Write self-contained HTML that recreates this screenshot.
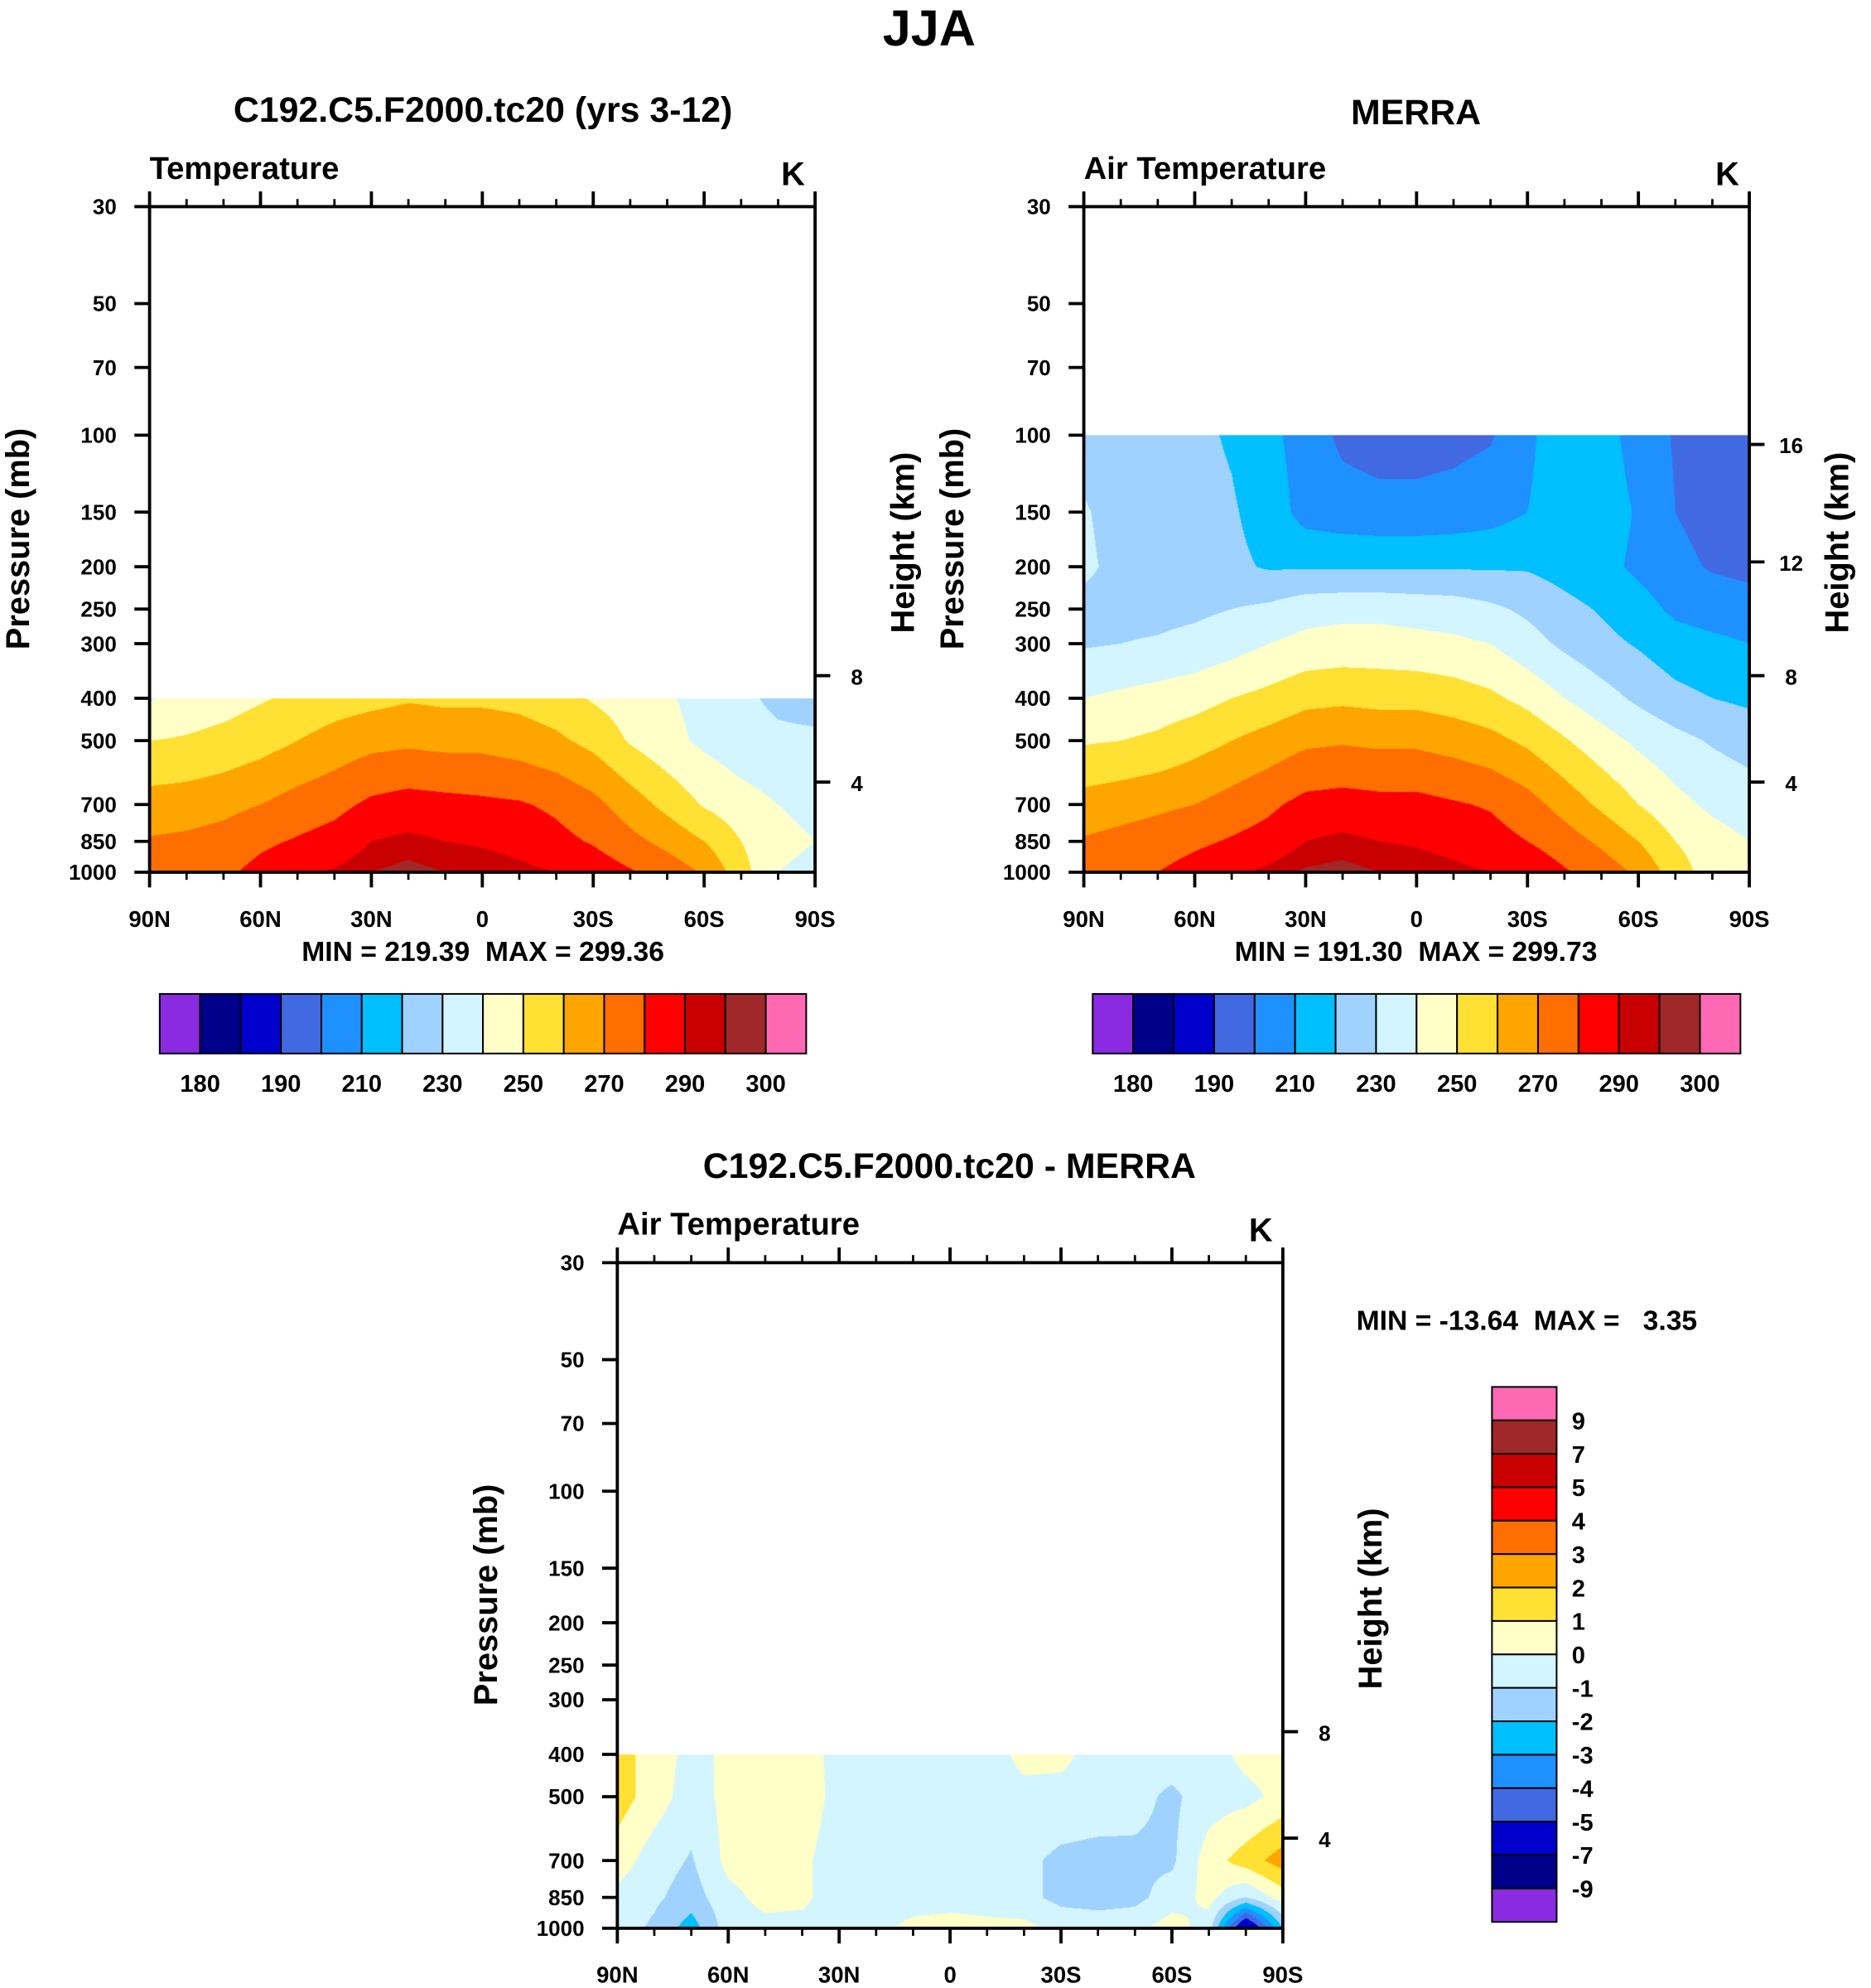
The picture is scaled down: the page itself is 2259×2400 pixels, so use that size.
<!DOCTYPE html>
<html><head><meta charset="utf-8">
<style>
html,body{margin:0;padding:0;background:#fff;}
#wrap{position:absolute;left:0;top:0;width:1476px;height:1568px;transform:scale(1.53049);transform-origin:0 0;overflow:hidden;background:#fff;}
#wrap svg{position:absolute;left:0;top:0;}
canvas{position:absolute;}
</style></head>
<body>
<div id="wrap">
<canvas id="c1" style="left:118px;top:163px;width:525px;height:525px" width="804" height="804"></canvas>
<canvas id="c2" style="left:855px;top:163px;width:525px;height:525px" width="804" height="804"></canvas>
<canvas id="c3" style="left:487px;top:996px;width:525px;height:525px" width="804" height="804"></canvas>
<svg id="svg" width="1476" height="1568" viewBox="0 0 1476 1568" font-family="'Liberation Sans', Arial, sans-serif" font-weight="bold"></svg>
</div>
<script>
// ---- data ----
const lats = [90,80,70,60,50,40,30,20,10,0,-10,-20,-30,-40,-50,-60,-70,-80,-90];
const levelsLow = [1000,850,700,500,400];
const levelsMerra = [1000,850,700,500,400,300,250,200,150,100];
const model1000 = [274,277,278,283,288,291,295,297,295,294,292,290,286,281,276,269,254,240,238];
const model850 = [271,272,274,278,281,284,290,292,290,289,287,283,279,273,267,260,250,242,240];
const model700 = [264,265,267,270,274,277,282,284,283,282,281,278,273,265,257,249,244,240,238];
const model500 = [250,251,253,256,260,264,267,268,267,267,265,262,257,249,243,238,234,232,232];
const model400 = [239,244,246,249,252,255,257,259,258,258,257,254,249,245,241,237,232,228,226];
const merra1000 = [275,277,280,284,288,292,296,297,295,294,292,290,287,281,276,268,255,245,240];
const merra850 = [271,273,275,278,281,284,290,292,290,289,287,284,280,275,268,260,250,244,240];
const merra700 = [264,266,268,270,274,278,283,284,283,283,281,279,274,266,258,250,243,238,235];
const merra500 = [249,250,252,256,260,264,268,269,268,268,266,263,258,251,244,238,233,229,226];
const merra400 = [240,242,244,246,250,253,257,258,257,257,255,252,247,240,234,228,223,220,218];
const merra300 = [229,230,231,233,236,240,243,244,244,243,242,240,234,228,223,219,214,212,210];
const merra250 = [227,227,227,228,230,232,236,237,237,236,235,232,228,223,219,214,208,206,205];
const merra200 = [232,227,226,225,222,219,219,219,219,219,219,219,219,216,213,208,203,199,197];
const merra150 = [231,226,224,223,221,216,206,204,203,203,204,206,210,215,215,209,200,196,195];
const merra100 = [226,223,222,222,219,213,205,198,196,196,197,199,208,216,214,206,199,194,193];
const diff1000 = [-0.5,-1.2,-2.5,-0.5,-0.3,-0.3,-0.5,-0.3,0.3,0.5,0.3,0.3,-0.3,-0.3,-0.3,0.5,-0.5,-7,-2];
const diff850 = [-0.3,-0.8,-1.5,-0.3,0.3,0.2,-0.5,-0.5,-0.5,-0.5,-0.5,-0.7,-1.3,-1.5,-1.3,-0.5,0.3,-1,0.5];
const diff700 = [0.5,-0.5,-1.1,0.3,0.5,0.2,-0.5,-0.5,-0.5,-0.5,-0.5,-0.8,-1.2,-1.3,-1.2,-1.2,0.5,1.5,2.5];
const diff500 = [1.5,0.5,-0.5,0.3,0.5,0.5,-0.3,-0.4,-0.4,-0.4,-0.5,-0.3,-0.4,-0.5,-0.7,-1.2,-0.5,-0.3,0.3];
const diff400 = [1.5,0.5,-0.3,0.2,0.5,0.4,-0.3,-0.5,-0.3,-0.3,-0.5,0.3,0.3,-0.5,-0.5,-0.5,-0.5,0.3,0.5];
const tempLevels = [180,185,190,200,210,220,230,240,250,260,270,280,290,295,300];
const tempTickLabels = ["180","190","210","230","250","270","290","300"];
const diffLevels = [-9,-7,-5,-4,-3,-2,-1,0,1,2,3,4,5,7,9];
const diffTickLabels = ["9","7","5","4","3","2","1","0","-1","-2","-3","-4","-5","-7","-9"];
const pressureTicks = [30,50,70,100,150,200,250,300,400,500,700,850,1000];
const latTicks = [90,60,30,0,-30,-60,-90];
const latTickLabels = ["90N","60N","30N","0","30S","60S","90S"];
const heightTicksKm = [4,8,12,16];
const heightTickPressure = [622,355,195,105];
const colors = ["#8a2be2","#00008b","#0000cd","#4169e1","#1e90ff","#00bfff","#a0d2ff","#d2f5ff","#ffffc8","#ffe033","#ffa500","#ff6e00","#ff0000","#c80000","#a02828","#ff69b4"];

const modelGrid = [model1000,model850,model700,model500,model400];
const merraGrid = [merra1000,merra850,merra700,merra500,merra400,merra300,merra250,merra200,merra150,merra100];
const diffGrid = [diff1000,diff850,diff700,diff500,diff400];

// ---- axis functions ----
const PW=525, PH=525;
const LN = Math.log(1000/30);
function yOfP(p){ return PH*Math.log(p/30)/LN; }
function pOfY(y){ return 30*Math.exp(y/PH*LN); }
function xOfLat(lat){ return (90-lat)/180*PW; }
function hexRgb(h){return [parseInt(h.substr(1,2),16),parseInt(h.substr(3,2),16),parseInt(h.substr(5,2),16)];}
const rgb = colors.map(hexRgb);
function colorIdx(v, lev){ let i=0; while(i<lev.length && v>=lev[i]) i++; return i; }

function drawField(id, grid, levels, lev){
  const c=document.getElementById(id), ctx=c.getContext('2d');
  const W=c.width, H=c.height, s=W/PW;
  const img=ctx.createImageData(W,H);
  const lp = levels.map(p=>Math.log(p));
  const pTop = levels[levels.length-1];
  for(let py=0;py<H;py++){
    const y=(py+0.5)/s;
    const p=pOfY(y);
    if(p<pTop-0.01 || p>1000.5) continue;
    const l=Math.log(p);
    let k=0; while(k<levels.length-2 && l<lp[k+1]) k++;
    let t=(lp[k]-l)/(lp[k]-lp[k+1]); t=Math.max(0,Math.min(1,t));
    for(let px=0;px<W;px++){
      const x=(px+0.5)/s;
      const fi=(x/PW)*(lats.length-1);
      const i=Math.min(lats.length-2,Math.floor(fi)); const u=fi-i;
      const a=grid[k][i]*(1-u)+grid[k][i+1]*u;
      const b=grid[k+1][i]*(1-u)+grid[k+1][i+1]*u;
      const v=a*(1-t)+b*t;
      const cc=rgb[colorIdx(v,lev)];
      const o=(py*W+px)*4;
      img.data[o]=cc[0];img.data[o+1]=cc[1];img.data[o+2]=cc[2];img.data[o+3]=255;
    }
  }
  ctx.putImageData(img,0,0);
}
drawField('c1', modelGrid, levelsLow, tempLevels);
drawField('c2', merraGrid, levelsMerra, tempLevels);
drawField('c3', diffGrid, levelsLow, diffLevels);

// ---- svg annotations ----
const NS="http://www.w3.org/2000/svg";
const svg=document.getElementById('svg');
function el(tag, attrs, parent){
  const e=document.createElementNS(NS,tag);
  for(const k in attrs) e.setAttribute(k,attrs[k]);
  (parent||svg).appendChild(e); return e;
}
function txt(x,y,s,size,anchor,parent,rot){
  const e=el('text',{x:x,y:y,'font-size':size,'text-anchor':anchor||'middle',fill:'#000'},parent);
  if(rot) e.setAttribute('transform','rotate(-90 '+x+' '+y+')');
  e.setAttribute('style','white-space:pre');
  e.textContent=s; return e;
}

function panel(x0,y0,name,leftTitle,heightIdx){
  const g=el('g',{});
  
  
  const frame=el('rect',{x:x0,y:y0,width:PW,height:PH,fill:'none',stroke:'#000','stroke-width':2.5},g);
  
  
  for(let lat=90;lat>=-90;lat-=10){
    const x=x0+xOfLat(lat); const major=(lat%30===0); const L=major?12:6;
    el('line',{x1:x,y1:y0+PH,x2:x,y2:y0+PH+L,stroke:'#000','stroke-width':major?2.5:1.8},g);
    el('line',{x1:x,y1:y0,x2:x,y2:y0-L,stroke:'#000','stroke-width':major?2.5:1.8},g);
  }
  const xl=el('g',{},g);
  
  
  latTicks.forEach((lat,i)=>txt(x0+xOfLat(lat),y0+PH+43,latTickLabels[i],18,'middle',xl));
  const yl=el('g',{},g);
  
  
  pressureTicks.forEach(p=>{
    const y=y0+yOfP(p);
    el('line',{x1:x0-12,y1:y,x2:x0,y2:y,stroke:'#000','stroke-width':2.5},g);
    txt(x0-26,y+6,String(p),17,'end',yl);
  });
  const hl=el('g',{},g);
  
  
  heightIdx.forEach(i=>{
    const y=y0+yOfP(heightTickPressure[i]);
    el('line',{x1:x0+PW,y1:y,x2:x0+PW+12,y2:y,stroke:'#000','stroke-width':2.5},g);
    txt(x0+PW+33,y+7,String(heightTicksKm[i]),17,'middle',hl);
  });
  const pt=txt(x0-95,y0+262,'Pressure (mb)',26,'middle',g,true);
  
  
  const ht=txt(x0+603,y0+265,'Height (km)',26,'middle',g,true);
  
  
  const lt=txt(x0,y0-22,leftTitle,25,'start',g);
  
  
  const kt=txt(x0+PW-8,y0-17,'K',26,'end',g);
  
  
}
panel(118,163,'model-panel','Temperature',[0,1]);
panel(855,163,'merra-panel','Air Temperature',[0,1,2,3]);
panel(487,996,'difference-panel','Air Temperature',[0,1]);

const t0=txt(733,36,'JJA',40,'middle');


const t1=txt(381,96,'C192.C5.F2000.tc20 (yrs 3-12)',28,'middle');


const t2=txt(1117,98,'MERRA',28,'middle');


const t3=txt(749,929,'C192.C5.F2000.tc20 - MERRA',28,'middle');


const m1=txt(381,758,'MIN = 219.39  MAX = 299.36',22,'middle');


const m2=txt(1117,758,'MIN = 191.30  MAX = 299.73',22,'middle');


const m3=txt(1070,1049,'MIN = -13.64  MAX =   3.35',22,'start');



function hbar(x0,y0,w,h,name){
  const g=el('g',{});
  
  
  const bw=w/colors.length;
  colors.forEach((c,i)=>{
    const r=el('rect',{x:x0+i*bw,y:y0,width:bw,height:h,fill:c,stroke:'#000','stroke-width':1.3},g);
    
    
  });
  tempTickLabels.forEach((s,j)=>txt(x0+(2*j+1)*bw,y0+h+30,s,19,'middle',g));
}
hbar(126,784,510,47,'model-colorbar');
hbar(862,784,511,47,'merra-colorbar');

(function(){
  const x0=1177,y0=1094,w=51,h=422;
  const g=el('g',{});
  
  
  const bh=h/colors.length;
  for(let i=0;i<colors.length;i++){
    const r=el('rect',{x:x0,y:y0+i*bh,width:w,height:bh,fill:colors[colors.length-1-i],stroke:'#000','stroke-width':1.3},g);
    
    
  }
  diffTickLabels.forEach((s,j)=>txt(x0+63,y0+(j+1)*bh+7,s,19,'start',g));
})();
</script>
</body></html>
